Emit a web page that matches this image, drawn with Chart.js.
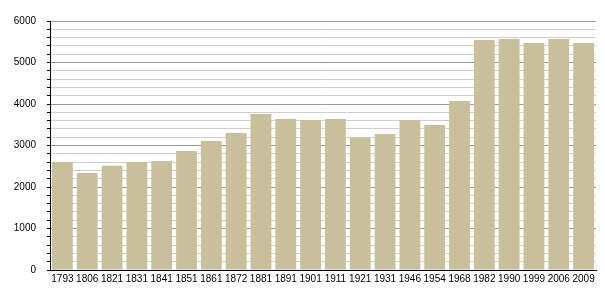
<!doctype html>
<html lang="en">
  <head>
    <meta charset="UTF-8" />
    <title>Population</title>
    <script src="https://cdn.jsdelivr.net/npm/chart.js"></script>
    <style>
      body {
        margin: 0;
        background: #fff;
      }
    </style>
  </head>
  <body>
    <canvas id="population" width="605" height="300"></canvas>

    <script>
      const years = [
        "1793", "1806", "1821", "1831", "1841", "1851", "1861", "1872",
        "1881", "1891", "1901", "1911", "1921", "1931", "1946", "1954",
        "1968", "1982", "1990", "1999", "2006", "2009",
      ];
      const population = [
        2600, 2340, 2510, 2600, 2625, 2870, 3110, 3300, 3760, 3640, 3615,
        3640, 3190, 3280, 3615, 3495, 4070, 5540, 5565, 5470, 5565, 5470,
      ];
      const yMax = 6000;
      const yStep = 200;

      const ctx = document.getElementById("population").getContext("2d");
      new Chart(ctx, {
        type: "bar",
        data: {
          labels: years,
          datasets: [
            {
              data: population,
              backgroundColor: "#c9c09b",
              barPercentage: 0.84,
              categoryPercentage: 1,
            },
          ],
        },
        options: {
          responsive: false,
          animation: false,
          layout: {
            padding: { top: 21, right: 9, left: 0, bottom: 0 },
          },
          plugins: {
            legend: { display: false },
            tooltip: { enabled: false },
          },
          scales: {
            x: {
              grid: { display: false, drawTicks: false },
              border: { display: true, color: "#000", width: 1 },
              ticks: {
                autoSkip: false,
                maxRotation: 0,
                padding: 3,
                color: "#000",
                font: { family: "Liberation Sans", size: 10 },
              },
              afterFit: (scale) => {
                scale.height = 30;
              },
            },
            y: {
              min: 0,
              max: yMax,
              border: { display: true, color: "#000", width: 1 },
              grid: {
                color: (c) =>
                  c.tick && c.tick.value % 1000 === 0 ? "#9a9a9a" : "#cfcfcf",
                tickColor: "#000",
                tickLength: 3,
              },
              ticks: {
                stepSize: yStep,
                autoSkip: false,
                padding: 11,
                color: "#000",
                font: { family: "Liberation Sans", size: 10 },
                callback: (v) => (v % 1000 === 0 ? String(v) : ""),
              },
              afterFit: (scale) => {
                scale.width = 50;
              },
            },
          },
        },
      });
    </script>
  </body>
</html>
